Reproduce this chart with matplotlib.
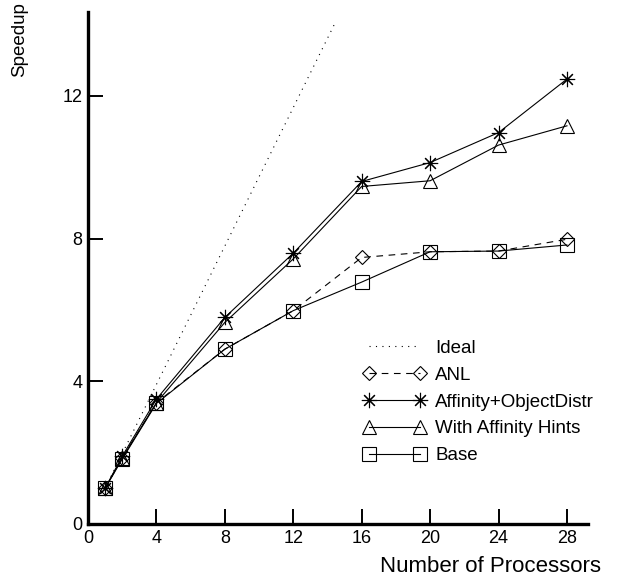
import matplotlib
matplotlib.use("Agg")
import matplotlib.pyplot as plt

plt.rcParams['font.family'] = ['Liberation Sans', 'DejaVu Sans']

# data
procs = [1, 2, 4, 8, 12, 16, 20, 24, 28]
ideal_procs = [1, 14.4]
ideal_speedup = [1, 14]
anl = [1.0, 1.85, 3.4, 4.9, 5.98, 7.47, 7.63, 7.65, 7.98]
affinity_obj = [1.0, 1.9, 3.5, 5.79, 7.59, 9.6, 10.13, 10.97, 12.47]
affinity_hints = [1.0, 1.85, 3.4, 5.65, 7.43, 9.46, 9.62, 10.62, 11.16]
base = [1.0, 1.82, 3.38, 4.9, 5.98, 6.78, 7.63, 7.65, 7.82]

x_ticks = [0, 4, 8, 12, 16, 20, 24, 28]
y_ticks = [0, 4, 8, 12]

fig = plt.figure(figsize=(6.31, 5.81), dpi=100)
ax = fig.add_axes([88 / 631, 57 / 581, 500 / 631, 512 / 581])

lw = 0.8
ax.plot(ideal_procs, ideal_speedup, color='black', lw=lw,
        linestyle=(0, (1, 4.8)), label='Ideal')
ax.plot(procs, anl, color='black', lw=lw, linestyle=(0, (6, 5)),
        marker='D', ms=7.5, mfc='none', mec='black', mew=0.8, label='ANL')
ax.plot(procs, affinity_obj, color='black', lw=lw,
        marker=(8, 2, 0), ms=11, mec='black', mew=0.8,
        label='Affinity+ObjectDistr')
ax.plot(procs, affinity_hints, color='black', lw=lw,
        marker='^', ms=10, mfc='none', mec='black', mew=0.8,
        label='With Affinity Hints')
ax.plot(procs, base, color='black', lw=lw,
        marker='s', ms=10, mfc='none', mec='black', mew=0.8, label='Base')

ax.set_xlim(0, 29.23)
ax.set_ylim(0, 14.35)
ax.set_xticks(x_ticks)
ax.set_yticks(y_ticks)

ax.spines['top'].set_visible(False)
ax.spines['right'].set_visible(False)
ax.spines['left'].set_linewidth(2.4)
ax.spines['bottom'].set_linewidth(2.4)
ax.tick_params(direction='in', length=10.5, width=1.4, labelsize=13, pad=4)

fig.text(20 / 631, (581 - 40) / 581, 'Speedup', rotation=90, ha='center',
         va='center', fontsize=13.5)
fig.text(601 / 631, 15 / 581, 'Number of Processors', ha='right',
         va='center', fontsize=16)

ax.legend(loc='upper left', bbox_to_anchor=(275 / 500, 0.36), frameon=False,
          numpoints=2, handlelength=3.35, handletextpad=0.5,
          labelspacing=0.52, borderpad=0, borderaxespad=0, fontsize=13.5)

fig.savefig('out.png', dpi=100)
